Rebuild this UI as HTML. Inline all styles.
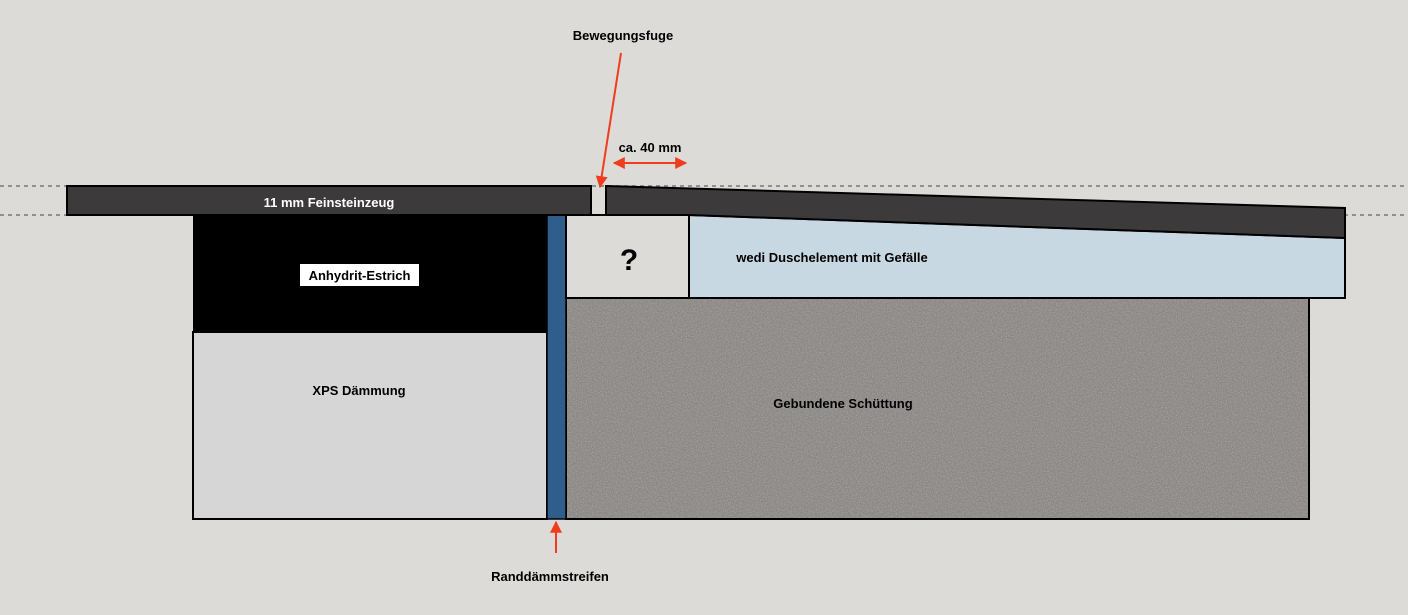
<!DOCTYPE html>
<html><head><style>body{margin:0;background:#dcdbd7}svg{display:block}text{font-family:"Liberation Sans",sans-serif;font-weight:bold;font-size:13px;fill:#000}</style></head>
<body>
<svg width="1408" height="615" viewBox="0 0 1408 615">
<defs>
<filter id="n" x="0" y="0" width="100%" height="100%"><feTurbulence type="fractalNoise" baseFrequency="0.8" numOctaves="2" seed="3"/><feColorMatrix values="0 0 0 0 0.4  0 0 0 0 0.39  0 0 0 0 0.38  0 0 0 -2.5 1.6"/></filter>
<marker id="a" viewBox="0 0 10 10" refX="9" refY="5" markerWidth="6" markerHeight="6" orient="auto-start-reverse"><path d="M0,0L10,5L0,10z" fill="#f03c1e"/></marker>
</defs>
<rect width="1408" height="615" fill="#dcdbd7"/>
<line x1="0" y1="186" x2="1408" y2="186" stroke="#777" stroke-width="1.5" stroke-dasharray="4,4"/>
<line x1="0" y1="215" x2="1408" y2="215" stroke="#777" stroke-width="1.5" stroke-dasharray="4,4"/>
<rect x="193" y="332" width="354" height="187" fill="#d6d6d6" stroke="#000" stroke-width="2"/>
<rect x="193" y="215" width="354" height="117" fill="#000"/>
<rect x="566" y="298" width="743" height="221" fill="#8a8683"/>
<rect x="566" y="298" width="743" height="221" filter="url(#n)" opacity="0.7"/>
<rect x="566" y="298" width="743" height="221" fill="none" stroke="#000" stroke-width="2"/>
<rect x="547" y="215" width="19" height="304" fill="#2f5e8c" stroke="#000" stroke-width="1.5"/>
<rect x="566" y="215" width="123" height="83" fill="#dcdbd7" stroke="#000" stroke-width="2"/>
<polygon points="689,215 1345,238 1345,298 689,298" fill="#c8d8e2" stroke="#000" stroke-width="2"/>
<rect x="67" y="186" width="524" height="29" fill="#3c3a3b" stroke="#000" stroke-width="2"/>
<polygon points="606,186 1345,208 1345,238 689,215 606,215" fill="#3c3a3b" stroke="#000" stroke-width="2"/>
<rect x="300" y="264" width="119" height="22" fill="#fff"/>
<text x="359.5" y="280" text-anchor="middle">Anhydrit-Estrich</text>
<text x="329" y="207" text-anchor="middle" style="fill:#fff">11 mm Feinsteinzeug</text>
<text x="359" y="395" text-anchor="middle">XPS Dämmung</text>
<text x="843" y="408" text-anchor="middle">Gebundene Schüttung</text>
<text x="832" y="262" text-anchor="middle">wedi Duschelement mit Gefälle</text>
<text x="629" y="270" text-anchor="middle" style="font-size:30px">?</text>
<text x="623" y="40" text-anchor="middle">Bewegungsfuge</text>
<text x="650" y="152" text-anchor="middle">ca. 40 mm</text>
<text x="550" y="581" text-anchor="middle">Randdämmstreifen</text>
<line x1="621" y1="53" x2="600" y2="187" stroke="#f03c1e" stroke-width="2" marker-end="url(#a)"/>
<line x1="614" y1="163" x2="686" y2="163" stroke="#f03c1e" stroke-width="2" marker-start="url(#a)" marker-end="url(#a)"/>
<line x1="556" y1="553" x2="556" y2="522" stroke="#f03c1e" stroke-width="2" marker-end="url(#a)"/>
</svg>
</body></html>
